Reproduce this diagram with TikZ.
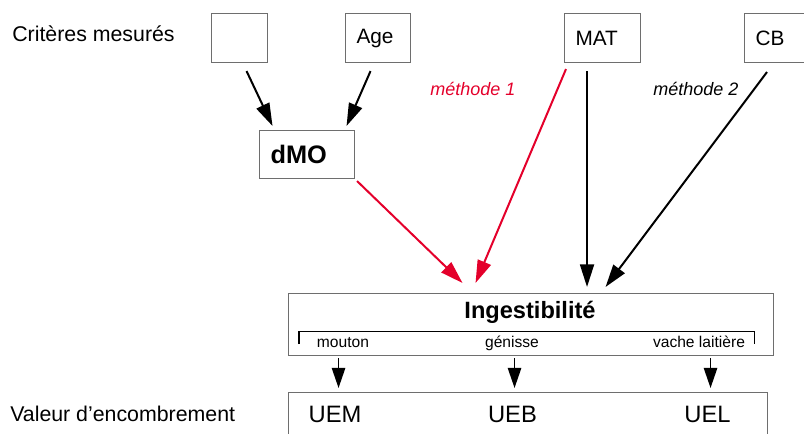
\documentclass[tikz,border=0pt]{standalone}
\usepackage{fontspec}
\setmainfont{Liberation Sans}
\usetikzlibrary{arrows.meta,calc}
\definecolor{mred}{RGB}{228,0,43}
\definecolor{boxgray}{RGB}{110,110,110}
\tikzset{
  box/.style={draw=boxgray,line width=0.8pt,anchor=north west,inner ysep=0pt,inner xsep=8.25pt,align=left,font=\fontsize{15.6}{18}\selectfont},
  lbl/.style={inner sep=0pt,anchor=base west,font=\fontsize{16}{19}\selectfont},
  meth/.style={inner sep=0pt,anchor=base west,font=\fontsize{13.5}{16}\selectfont\itshape},
  small/.style={inner sep=0pt,anchor=base,font=\fontsize{11.7}{14}\selectfont},
  ue/.style={inner sep=0pt,anchor=base,font=\fontsize{17.8}{20}\selectfont},
  arrtop/.style={line width=1.5pt,-{Triangle[length=17pt,width=10.5pt]}},
  arrred/.style={arrtop,draw=mred,color=mred},
  arrbot/.style={line width=1.1pt,-{Triangle[length=15pt,width=10pt]}},
}
\begin{document}
\begin{tikzpicture}[x=0.75pt,y=-0.75pt]
\useasboundingbox (0,0) rectangle (804,434);
% boxes
\node[box,minimum width=42pt,minimum height=36.75pt,text width=25.5pt] (b1) at (211,13) {};
\node[box,minimum width=48.75pt,minimum height=36.75pt,text width=32.25pt] (age) at (345,13) {Age};
\node[box,minimum width=57pt,minimum height=36.75pt,text width=40.5pt] (mat) at (564,13) {MAT};
\node[box,minimum width=52.5pt,minimum height=36.75pt,text width=36pt] (cb) at (744,13) {CB};
\node[box,minimum width=71.25pt,minimum height=36pt,text width=54.75pt,font=\fontsize{19}{22}\selectfont\bfseries] (dmo) at (259,130) {dMO};
\node[box,minimum width=363.75pt,minimum height=46.5pt] (ing) at (288,293) {};
\node[box,minimum width=359.25pt,minimum height=45pt] (bot) at (288,392) {};
% texts
\node[lbl] (crit) at (12,42) {Critères mesurés};
\node[lbl] (val) at (10,422) {Valeur d’encombrement};
\node[meth,text=mred] (m1) at (430,96) {méthode 1};
\node[meth] (m2) at (653,96) {méthode 2};
\node[inner sep=0pt,anchor=base,font=\fontsize{17.7}{20}\selectfont\bfseries] (ingt) at (530,319) {Ingestibilité};
\node[small] (mout) at (343,348) {mouton};
\node[small] (gen) at (512,348) {génisse};
\node[small] (vache) at (699,348) {vache laitière};
\node[ue] (uem) at (335,423) {UEM};
\node[ue] (ueb) at (512.5,423) {UEB};
\node[ue] (uel) at (707.5,423) {UEL};
% bracket
\draw[line width=0.8pt] ($(ing.south west)+(11,-12)$) -- ($(ing.south west)+(11,-25)$) -- ($(ing.south east)+(-20,-25)$) -- ($(ing.south east)+(-20,-12)$);
% connectors
\draw[arrtop] ($(b1.south)+(7,8)$) -- ($(dmo.north)+(-34.5,-4)$);
\draw[arrtop] ($(age.south)+(-7.5,8)$) -- ($(dmo.north)+(39.5,-4)$);
\draw[arrred] ($(dmo.south east)+(2,2)$) -- ($(ing.north)+(-68.5,-10)$);
\draw[arrred] ($(mat.south west)+(2,6)$) -- ($(ing.north)+(-55.5,-10)$);
\draw[arrtop] ($(mat.south)+(-15.5,8)$) -- ($(ing.north)+(56,-6)$);
\draw[arrtop] ($(cb.south west)+(23,9)$) -- ($(ing.north)+(74.5,-6)$);
\draw[arrbot] ($(ing.south)+(-192.5,2)$) -- ($(bot.north)+(-189.5,-4)$);
\draw[arrbot] ($(ing.south)+(-16.5,2)$) -- ($(bot.north)+(-13.5,-4)$);
\draw[arrbot] ($(ing.south)+(179.5,2)$) -- ($(bot.north)+(182.5,-4)$);
\end{tikzpicture}
\end{document}
